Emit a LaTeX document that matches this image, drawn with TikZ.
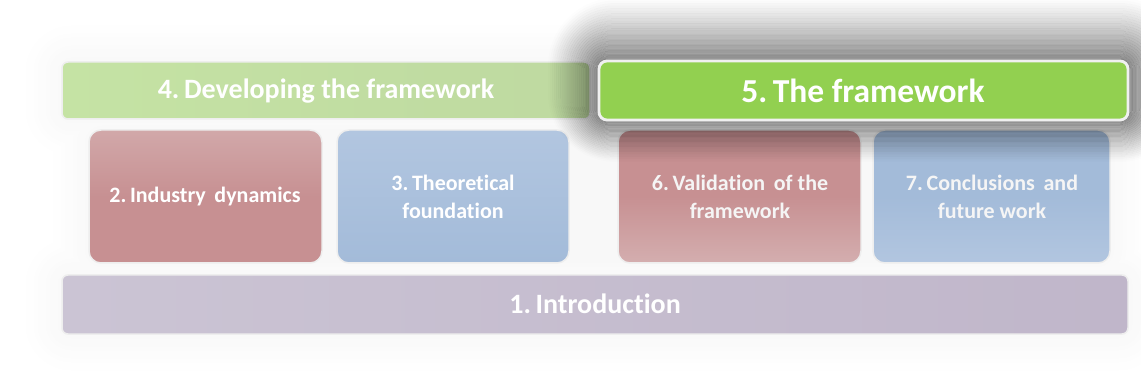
\documentclass[tikz,border=0pt]{standalone}
\usepackage{fontspec}
\setmainfont[Ligatures=NoCommon]{Carlito}
\definecolor{gA}{HTML}{C5E3A4}
\definecolor{gB}{HTML}{92D050}
\definecolor{rA}{HTML}{C79092}
\definecolor{rB}{HTML}{D4AEAF}
\definecolor{bA}{HTML}{A3BBD9}
\definecolor{bB}{HTML}{B2C6E0}
\definecolor{pA}{HTML}{CBC4D4}
\definecolor{pB}{HTML}{C0B6CA}
\definecolor{rimc}{HTML}{EEEEEE}
\tikzset{
  card/.style={rounded corners=12pt, draw=rimc, line width=1.5pt},
  ttl/.style={text=white, align=center, inner sep=0pt},
  bigf/.style={font=\fontsize{28}{32}\selectfont\bfseries},
  smallf/.style={font=\fontsize{22}{28}\selectfont\bfseries},
}
\begin{document}
\begin{tikzpicture}[x=1pt,y=-1pt]
\useasboundingbox (0,0) rectangle (1141,382);
% very faint soft halo behind the whole layout
\foreach \i in {40,36,...,0}{
  \pgfmathsetmacro{\k}{2.6*(40-\i)/40}
  \fill[black!\k, rounded corners={10+\i}] (62-\i,62-\i) rectangle (1128+\i,119+\i);
  \fill[black!\k, rounded corners={14+\i}] (89-\i,130-\i) rectangle (1110+\i,263+\i);
  \fill[black!\k, rounded corners={10+\i}] (62-\i,275-\i) rectangle (1128+\i,334+\i);
}
% box 4
\path[card, rounded corners=6pt, left color=gA, right color=gA!90!gray] (62,62) rectangle (590,119);
% small boxes
\path[card, top color=rB!80!rA, bottom color=rA, middle color=rA] (89,130) rectangle (322,263);
\path[card, top color=bB, bottom color=bA] (337,130) rectangle (569,263);
\path[card, top color=rA, bottom color=rB, middle color=rA] (618,130) rectangle (861,263);
\path[card, top color=bA, bottom color=bB, middle color=bA] (873,130) rectangle (1110,263);
% glow shadow around box 5, as non-overlapping rings
\foreach \k in {1,...,25}{
  \pgfmathsetmacro{\a}{2.4*(\k-1)}
  \pgfmathsetmacro{\b}{2.4*\k}
  \pgfmathsetmacro{\d}{0.44*(1-(\k-0.5)/25)^1.1}
  \fill[black, opacity=\d, even odd rule]
    [rounded corners={8+\b}] (599-0.85*\b,61-1.05*\b) rectangle (1128+\b,120+0.7*\b)
    [rounded corners={8+\a}] (599-0.85*\a,61-1.05*\a) rectangle (1128+\a,120+0.7*\a);
}
% box 5
\path[draw=white!94!black, line width=2.8pt, fill=gB, rounded corners=8pt] (599,61) rectangle (1128,120);
% box 1
\path[card, rounded corners=6pt, left color=pA, right color=pB] (62,275) rectangle (1128,334);
% texts
\node[ttl, bigf] (b4) at (326,91) {4.\,Developing the framework};
\node[ttl, font=\fontsize{33.5}{38}\selectfont\bfseries] (b5) at (863,91) {5.\,The framework};
\node[ttl, smallf] (b2) at (205,197) {2.\,Industry\, dynamics};
\node[ttl, smallf] (b3) at (453,197) {3.\,Theoretical\\foundation};
\node[ttl, smallf, text=white!92!gray] (b6) at (740,197) {6.\,Validation\, of the\\framework};
\node[ttl, smallf, text=white!92!gray] (b7) at (992,197) {7.\,Conclusions\, and\\future work};
\node[ttl, bigf] (b1) at (595,304) {1.\,Introduction};
\end{tikzpicture}
\end{document}
